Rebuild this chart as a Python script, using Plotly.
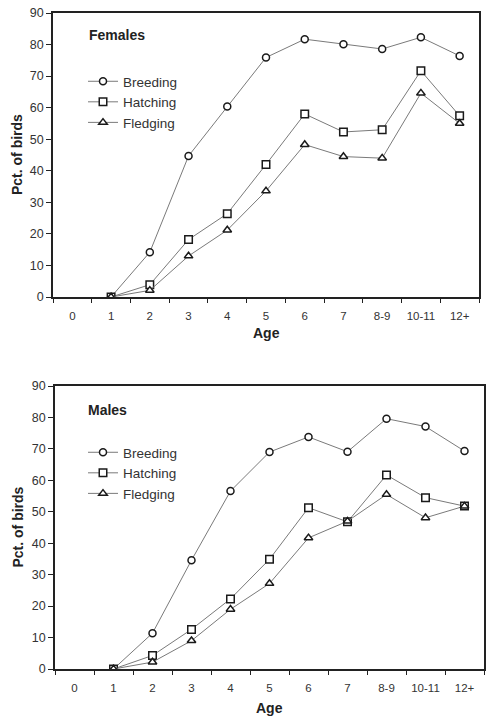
import plotly.graph_objects as go

# Age classes on the x axis
ages = ["0", "1", "2", "3", "4", "5", "6", "7", "8-9", "10-11", "12+"]

# Percentage of birds per age class (no birds recorded at age 0)
fem_breeding = [None, 0, 14.2, 44.7, 60.4, 75.9, 81.7, 80.1, 78.6, 82.3, 76.4]
fem_hatching = [None, 0, 3.9, 18.2, 26.4, 42.0, 58.0, 52.3, 53.0, 71.7, 57.4]
fem_fledging = [None, 0, 2.1, 13.0, 21.2, 33.6, 48.3, 44.5, 44.0, 64.6, 55.0]

male_breeding = [None, 0, 11.4, 34.6, 56.6, 69.0, 73.8, 69.1, 79.6, 77.1, 69.3]
male_hatching = [None, 0, 4.3, 12.6, 22.3, 34.9, 51.3, 46.8, 61.7, 54.5, 51.8]
male_fledging = [None, 0, 2.2, 9.0, 19.0, 27.2, 41.7, 47.0, 55.5, 48.1, 51.8]

series_names = ["Breeding", "Hatching", "Fledging"]
symbols = ["circle", "square", "triangle-up"]
sizes = [7, 7.5, 7.5]

FONT = "Arial, Liberation Sans, sans-serif"
W, H = 486, 716

fig = go.Figure()

panels = [
    ("Females", [fem_breeding, fem_hatching, fem_fledging], "x", "y", "legend"),
    ("Males", [male_breeding, male_hatching, male_fledging], "x2", "y2", "legend2"),
]

for title, data, xa, ya, leg in panels:
    for name, vals, sym, sz in zip(series_names, data, symbols, sizes):
        fig.add_trace(go.Scatter(
            x=ages, y=vals, name=name, mode="lines+markers",
            xaxis=xa, yaxis=ya, legend=leg,
            line=dict(color="#7a7a7a", width=1),
            marker=dict(symbol=sym, size=sz, color="white",
                        line=dict(color="#1a1a1a", width=1.5)),
        ))

# panel pixel boxes: (left, right, top, bottom)
boxes = [(53, 479, 13, 297), (55, 484, 386, 669)]
# vertical centre of the "Age" caption under each panel
age_caption_y = [333, 708]
panel_titles = [("Females", 87, 35), ("Males", 86, 410)]

axis_common = dict(
    showline=True, linecolor="#222", linewidth=1.6, mirror=True,
    ticks="outside", ticklen=5, tickwidth=1.3, tickcolor="#222",
    showgrid=False, zeroline=False, automargin=False,
)

title_font = dict(family=FONT, size=14, color="#222")
layout_axes = {}
annotations = []
for i, (l, r, t, b) in enumerate(boxes):
    sx = "" if i == 0 else "2"
    layout_axes[f"xaxis{sx}"] = dict(
        axis_common,
        domain=[l / W, r / W],
        anchor=f"y{sx}",
        type="category", categoryorder="array", categoryarray=ages,
        range=[-0.5, len(ages) - 0.5], tickson="boundaries",
        tickangle=0, ticklen=4, ticklabelstandoff=7,
        tickfont=dict(family=FONT, size=11.5, color="#333"),
    )
    layout_axes[f"yaxis{sx}"] = dict(
        axis_common,
        domain=[1 - b / H, 1 - t / H],
        anchor=f"x{sx}",
        range=[0, 90], dtick=10, tick0=0,
        tickfont=dict(family=FONT, size=12.5, color="#333"),
    )
    annotations.append(dict(
        text="<b>Age</b>", x=(l + r) / 2 / W, y=1 - age_caption_y[i] / H,
        xref="paper", yref="paper", xanchor="center", yanchor="middle",
        showarrow=False, font=title_font))
    annotations.append(dict(
        text="<b>Pct. of birds</b>", x=17 / W, y=1 - (t + b) / 2 / H, textangle=-90,
        xref="paper", yref="paper", xanchor="center", yanchor="middle",
        showarrow=False, font=title_font))
    name, px, py = panel_titles[i]
    annotations.append(dict(
        text=f"<b>{name}</b>", x=px / W, y=1 - py / H, xref="paper", yref="paper",
        xanchor="left", yanchor="middle", showarrow=False, font=title_font))

legend_style = dict(xanchor="left", yanchor="top", bgcolor="rgba(0,0,0,0)",
                    font=dict(family=FONT, size=13.5, color="#333"),
                    itemwidth=30, tracegroupgap=0)

fig.update_layout(
    width=W, height=H,
    margin=dict(l=0, r=0, t=0, b=0, autoexpand=False),
    paper_bgcolor="white", plot_bgcolor="white",
    font=dict(family=FONT, color="#222"),
    **layout_axes,
    legend=dict(legend_style, x=83 / W, y=1 - 66 / H),
    legend2=dict(legend_style, x=83 / W, y=1 - 437 / H),
    annotations=annotations,
)

fig.write_html("out.html")
